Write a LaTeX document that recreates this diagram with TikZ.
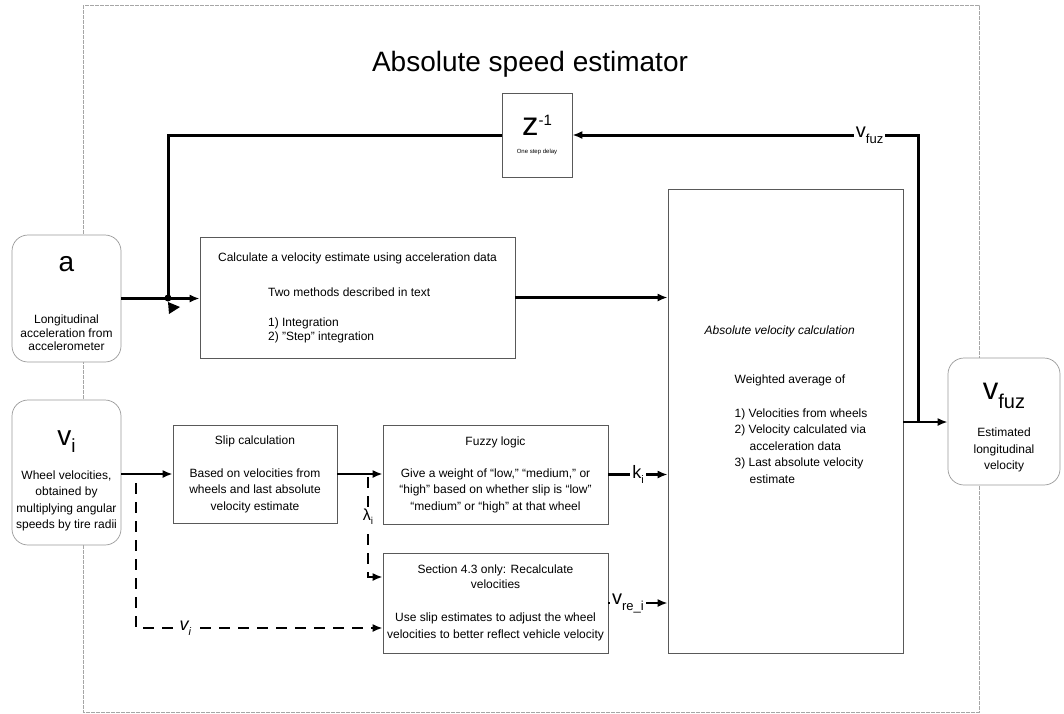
\documentclass[tikz,border=0pt]{standalone}
\usepackage{fontspec}
\setmainfont{Liberation Sans}
\usetikzlibrary{arrows.meta}

\begin{document}
\begin{tikzpicture}[x=1pt, y=-1pt,
	every node/.style={inner sep=0pt, font=\fontsize{12}{16.5}\selectfont},
	blk/.style={draw=black!65, line width=0.7pt, fill=white, align=center},
	rblk/.style={draw=black!40, line width=0.7pt, fill=white, align=center, rounded corners=16pt},
	flow/.style={->, >={Latex[length=10pt,width=8pt]}, line width=2.4pt},
	dflow/.style={flow, dash pattern=on 11pt off 8pt},
	lbl/.style={fill=white, inner sep=2pt}]
		\def\lowix#1#2#3{\raisebox{-#2pt}{\fontsize{#1}{#1}\selectfont #3}}
		
		\useasboundingbox (0,0) rectangle (1064,713);
		\draw[black!35, line width=0.8pt, dash pattern=on 4pt off 1pt] (83,5) rectangle (979,712);
		
		\node (title) at (530,64) {\fontsize{28}{28}\selectfont Absolute speed estimator};
		
		\node[blk, minimum width=70, minimum height=84, font=\fontsize{6}{8}\selectfont] (delay) at (537,135)
			{{\fontsize{33}{33}\selectfont z\raisebox{10pt}{\fontsize{15}{15}\selectfont -1}}\\[10pt]One step delay};
		
		% inputs
		\node[rblk, minimum width=109, minimum height=127, font=\fontsize{12}{13.5}\selectfont] (accel) at (66.5,298.5)
			{{\fontsize{28}{28}\selectfont\rule{0pt}{26pt}a}\\[38.5pt]Longitudinal\\acceleration from\\accelerometer};
		\node[rblk, minimum width=109, minimum height=145] (vi) at (66.5,472.5)
			{{\fontsize{28}{28}\selectfont\rule{0pt}{31pt}v\lowix{19}{7}{i}}\\[17.5pt]Wheel velocities,\\obtained by\\multiplying angular\\speeds by tire radii};
		
		% processing blocks
		\node[blk, minimum width=315, minimum height=121, align=left, font=\fontsize{12}{14}\selectfont] (calc) at (357.5,297.5)
			{Calculate a velocity estimate using acceleration data\\[21pt]
			\hspace*{50pt}Two methods described in text\\[16pt]
			\hspace*{50pt}1) Integration\\
			\hspace*{50pt}2) "Step" integration};
		\node[blk, minimum width=164, minimum height=98] (slip) at (255,474)
			{Slip calculation\\[16.5pt]Based on velocities from\\wheels and last absolute\\velocity estimate};
		\node[blk, minimum width=225, minimum height=99] (fuzzy) at (495.5,474.5)
			{Fuzzy logic\\[15.5pt]Give a weight of ``low,'' ``medium,'' or\\``high'' based on whether slip is ``low''\\``medium'' or ``high'' at that wheel};
		\node[blk, minimum width=225, minimum height=100] (recalc) at (495.5,603)
			{Section 4.3 only: Recalculate\\[-1.5pt]velocities\\[16.5pt]Use slip estimates to adjust the wheel\\velocities to better reflect vehicle velocity};
		\node[blk, minimum width=235, minimum height=464] (abs) at (785.5,421) {};
		\node[align=left] (abstext) at (786,404.5)
			{\textit{Absolute velocity calculation}\\[32.5pt]
			\hspace*{30pt}Weighted average of\\[17.5pt]
			\hspace*{30pt}1) Velocities from wheels\\
			\hspace*{30pt}2) Velocity calculated via\\
			\hspace*{45pt}acceleration data\\
			\hspace*{30pt}3) Last absolute velocity\\
			\hspace*{45pt}estimate};
		
		% output
		\node[rblk, minimum width=112, minimum height=127] (vfuz) at (1004,421.5)
			{{\fontsize{31}{31}\selectfont\rule{0pt}{28.6pt}v\lowix{20}{9}{fuz}}\\[18pt]Estimated\\longitudinal\\velocity};
		
		\coordinate (split) at (918,422);
		\coordinate (merge) at (168,298);
		\coordinate (vtap) at (136,483);
		\coordinate (ltap) at (368,477);
		
		% feedback through the delay
		\draw[flow] (abs.east |- split) -- (vfuz.west |- split);
		\draw[flow, line width=3pt] (split) |- node[lbl, pos=0.57] {\fontsize{20}{20}\selectfont v\lowix{13}{6}{fuz}} (delay.east);
		\draw[line width=3pt] (delay.west) -| (merge);
		\fill (merge) circle (3.5);
		\fill (merge) ++(0,4) -- ++(12,5) -- ++(-11,7) -- cycle;
		
		\draw[flow] (accel.east) -- (accel.east -| calc.west);
		\draw[flow] (calc.east) -- (calc.east -| abs.west);
		\draw[flow] (slip.west -| vi.east) -- (slip.west);
		\draw[flow] (slip.east) -- (fuzzy.west |- slip.east);
		\draw[flow] (fuzzy.east) -- node[lbl] {\fontsize{18}{18}\selectfont k\lowix{11}{5}{i}} (fuzzy.east -| abs.west);
		\draw[flow] (recalc.east) -- node[lbl, pos=0.33] {\fontsize{20}{20}\selectfont v\lowix{13}{6}{re\_i}} (recalc.east -| abs.west);
		
		\draw[dflow] (vtap) |- node[lbl, pos=0.6] {\fontsize{18}{18}\selectfont\itshape v\lowix{11}{5}{i}} ([yshift=-25pt]recalc.west);
		\draw[dflow] (ltap) |- node[lbl, pos=0.2] {\fontsize{16}{16}\selectfont λ\lowix{10}{4}{i}} ([yshift=26pt]recalc.west);
		
\end{tikzpicture}
\end{document}
